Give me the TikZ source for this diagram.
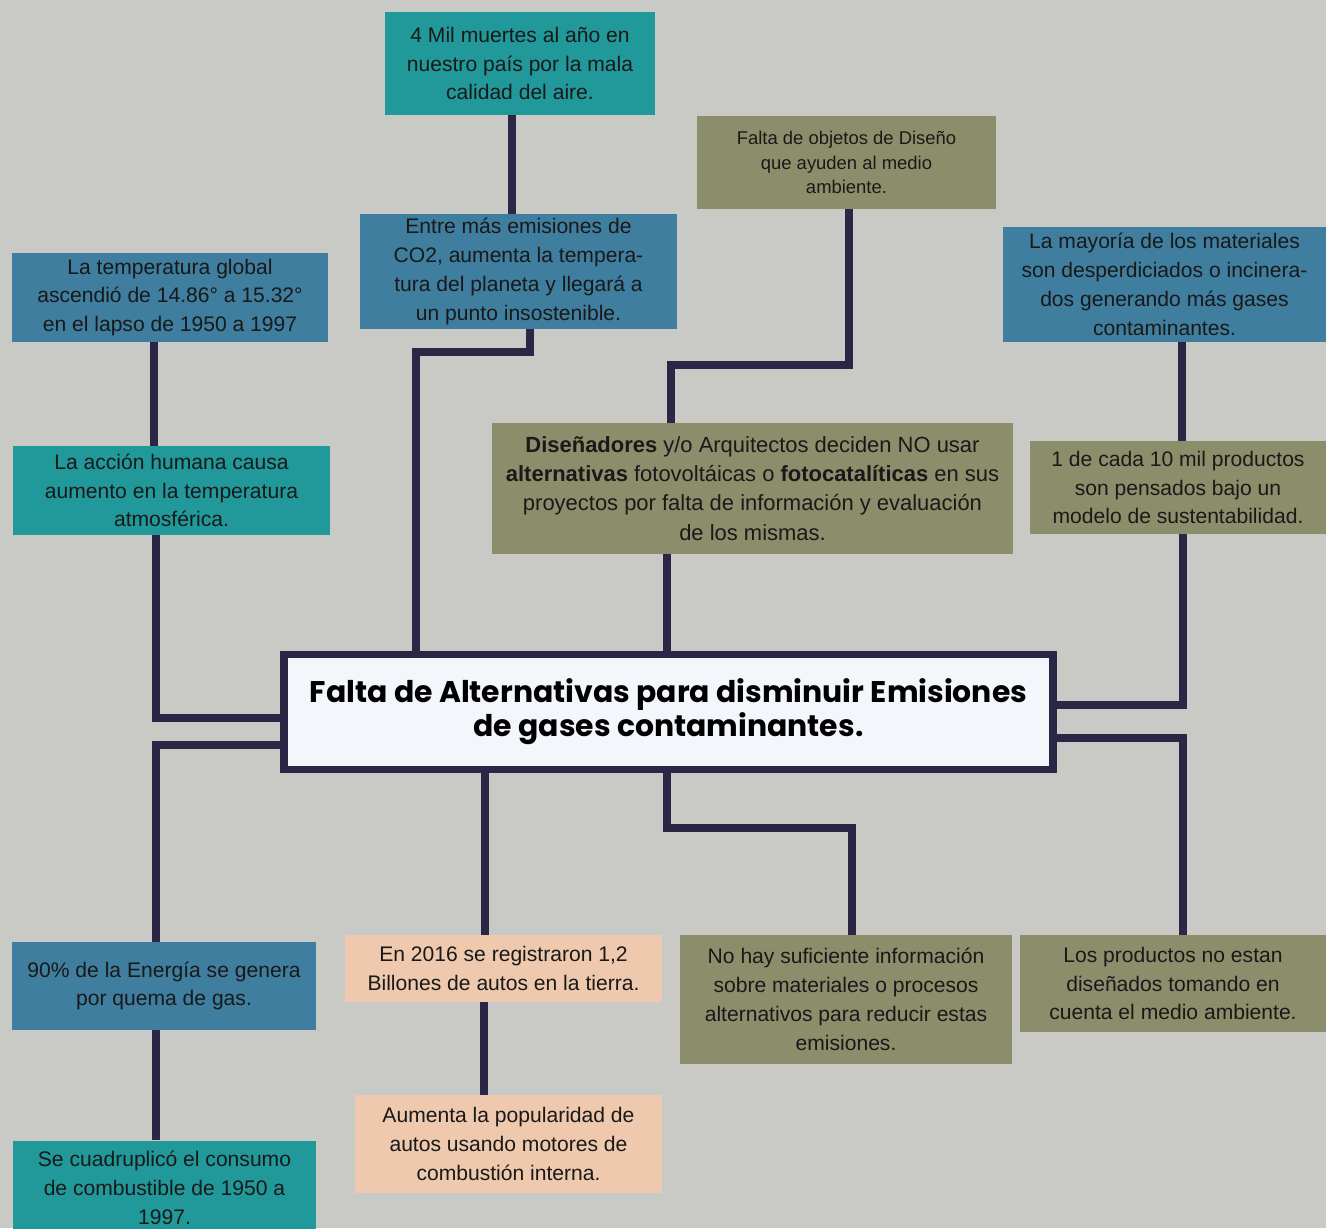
\documentclass[tikz,border=0pt]{standalone}
\usepackage{fontspec}
\setmainfont{Liberation Sans}
\newfontfamily\titlefont{Poppins}
\definecolor{concrete}{HTML}{C9C9C6}
\definecolor{tealbox}{HTML}{21999A}
\definecolor{bluebox}{HTML}{3F7E9E}
\definecolor{olivebox}{HTML}{8C8D6B}
\definecolor{peachbox}{HTML}{EFC9AD}
\definecolor{navyline}{HTML}{2B2546}
\definecolor{titlefill}{HTML}{F3F6FB}
\begin{document}
\begin{tikzpicture}[x=0.02cm,y=-0.02cm,
    box/.style={align=center,inner sep=2pt,text=black!90,font=\fontsize{12}{16.4}\selectfont},
    teal/.style={box,fill=tealbox},
    blue/.style={box,fill=bluebox},
    olive/.style={box,fill=olivebox},
    peach/.style={box,fill=peachbox},
    link/.style={draw=navyline,line width=4pt}]
    \useasboundingbox (0,0) rectangle (1326,1228);
    \clip (0,0) rectangle (1326,1228);
    \fill[concrete] (0,0) rectangle (1326,1228);
    % top row
    \node[teal,minimum width=5.4cm,minimum height=2.06cm] (n4mil) at (520,63.5) {4 Mil muertes al año en\\nuestro país por la mala\\calidad del aire.};
    \node[blue,minimum width=6.34cm,minimum height=2.3cm] (nco2) at (518.5,271.5) {Entre más emisiones de\\CO2, aumenta la tempera-\\tura del planeta y llegará a\\un punto insostenible.};
    \node[blue,minimum width=6.32cm,minimum height=1.78cm] (ntemp) at (170,297.5) {La temperatura global\\ascendió de 14.86° a 15.32°\\en el lapso de 1950 a 1997};
    \node[teal,minimum width=6.34cm,minimum height=1.78cm] (naccion) at (171.5,490.5) {La acción humana causa\\aumento en la temperatura\\atmosférica.};
    \node[olive,minimum width=5.98cm,minimum height=1.86cm,font=\fontsize{10.5}{14}\selectfont] (nobjetos) at (846.5,162.5) {Falta de objetos de Diseño\\que ayuden al medio\\ambiente.};
    \node[blue,minimum width=6.46cm,minimum height=2.3cm] (nmat) at (1164.5,284.5) {La mayoría de los materiales\\son desperdiciados o incinera-\\dos generando más gases\\contaminantes.};
    \node[olive,minimum width=10.42cm,minimum height=2.62cm,font=\fontsize{12.5}{16.6}\selectfont] (ndisen) at (752.5,488.5) {\textbf{Diseñadores} y/o Arquitectos deciden NO usar\\\textbf{alternativas} fotovoltáicas o \textbf{fotocatalíticas} en sus\\proyectos por falta de información y evaluación\\de los mismas.};
    \node[olive,minimum width=5.92cm,minimum height=1.86cm] (n1de10) at (1178,487.5) {1 de cada 10 mil productos\\son pensados bajo un\\modelo de sustentabilidad.};
    % centre
    \node[draw=navyline,line width=4.5pt,fill=titlefill,align=center,minimum width=15.38cm,minimum height=2.3cm,font=\titlefont\bfseries\fontsize{17}{19.5}\selectfont] (central) at (668.5,712) {Falta de Alternativas para disminuir  Emisiones\\de gases contaminantes.};
    % bottom row
    \node[blue,minimum width=6.08cm,minimum height=1.76cm] (n90) at (164,986) {90\% de la Energía se genera\\por quema de gas.};
    \node[teal,minimum width=6.06cm,minimum height=1.9cm] (ncuad) at (164.5,1188) {Se cuadruplicó el consumo\\de combustible de 1950 a\\1997.};
    \node[peach,minimum width=6.34cm,minimum height=1.34cm] (n2016) at (503.5,968.5) {En 2016 se registraron 1,2\\Billones de autos en la tierra.};
    \node[peach,minimum width=6.14cm,minimum height=1.96cm] (naumenta) at (508.5,1144) {Aumenta la popularidad de\\autos usando motores de\\combustión interna.};
    \node[olive,minimum width=6.64cm,minimum height=2.58cm] (nnohay) at (846,999.5) {No hay suficiente información\\sobre materiales o procesos\\alternativos para reducir estas\\emisiones.};
    \node[olive,minimum width=6.12cm,minimum height=1.94cm] (nlos) at (1173,983.5) {Los productos no estan\\diseñados tomando en\\cuenta el medio ambiente.};
    % connectors
    \draw[link] (n4mil.south -| 512,0) -- (nco2.north -| 512,0);
    \draw[link] (nco2.south -| 530,0) |- (416,352) -- (central.north -| 416,0);
    \draw[link] (ntemp.south -| 154,0) -- (naccion.north -| 154,0);
    \draw[link] (naccion.south -| 156,0) |- (central.west |- 0,718);
    \draw[link] (central.west |- 0,745) -| (n90.north -| 156,0);
    \draw[link] (n90.south -| 156,0) -- (ncuad.north -| 156,0);
    \draw[link] (nobjetos.south -| 849,0) |- (671,365) -- (ndisen.north -| 671,0);
    \draw[link] (ndisen.south -| 667,0) -- (central.north -| 667,0);
    \draw[link] (nmat.south -| 1182,0) -- (n1de10.north -| 1182,0);
    \draw[link] (n1de10.south -| 1183,0) |- (central.east |- 0,705);
    \draw[link] (central.east |- 0,738) -| (nlos.north -| 1183,0);
    \draw[link] (central.south -| 485,0) -- (n2016.north -| 485,0);
    \draw[link] (n2016.south -| 484,0) -- (naumenta.north -| 484,0);
    \draw[link] (central.south -| 667,0) |- (852,828) -- (nnohay.north -| 852,0);
\end{tikzpicture}
\end{document}
